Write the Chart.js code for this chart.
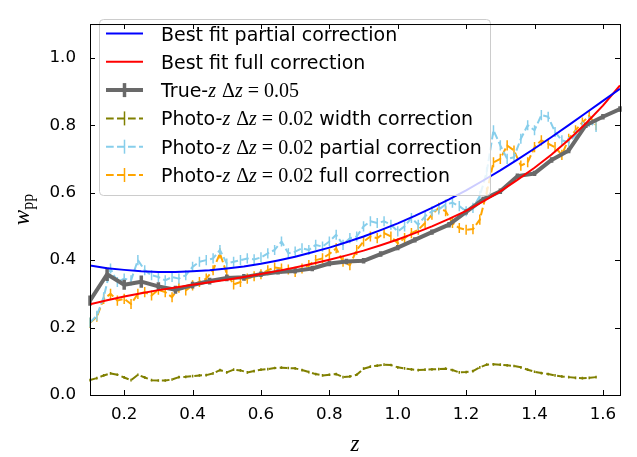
<!DOCTYPE html>
<html>
<head>
<meta charset="utf-8">
<script src="https://cdn.jsdelivr.net/npm/chart.js@4.4.0/dist/chart.umd.min.js"></script>
<style>
  body { margin: 0; background: #fff; }
  #wrap { width: 637px; height: 457px; }
</style>
</head>
<body>
<div id="wrap"><canvas id="wpp-chart" width="637" height="457"></canvas></div>
<script>
// best fit curves and true-z, dz = 0.05
const zFit = [0.10, 0.15, 0.20, 0.25, 0.30, 0.35, 0.40, 0.45, 0.50, 0.55,
  0.60, 0.65, 0.70, 0.75, 0.80, 0.85, 0.90, 0.95, 1.00, 1.05,
  1.10, 1.15, 1.20, 1.25, 1.30, 1.35, 1.40, 1.45, 1.50, 1.55,
  1.60, 1.65];
const fitPartial = [0.384, 0.376, 0.371, 0.367, 0.365, 0.365, 0.367, 0.370, 0.375, 0.381,
  0.389, 0.399, 0.410, 0.423, 0.437, 0.453, 0.470, 0.489, 0.509, 0.531,
  0.555, 0.580, 0.607, 0.636, 0.666, 0.698, 0.731, 0.765, 0.800, 0.836,
  0.872, 0.908];
const fitFull = [0.269, 0.281, 0.292, 0.302, 0.311, 0.319, 0.327, 0.334, 0.342, 0.350,
  0.359, 0.368, 0.378, 0.389, 0.401, 0.414, 0.428, 0.444, 0.461, 0.480,
  0.500, 0.522, 0.546, 0.574, 0.604, 0.638, 0.674, 0.713, 0.757, 0.805,
  0.858, 0.918];
const wTrue = [0.280, 0.358, 0.327, 0.336, 0.322, 0.312, 0.326, 0.338, 0.347, 0.349,
  0.358, 0.365, 0.368, 0.375, 0.390, 0.396, 0.398, 0.418, 0.437, 0.460,
  0.483, 0.505, 0.543, 0.580, 0.604, 0.649, 0.657, 0.697, 0.725, 0.800,
  0.825, 0.848];
const errTrue = [0.015, 0.020, 0.015, 0.018, 0.012, 0.012, 0.010, 0.010, 0.010, 0.010,
  0.008, 0.008, 0.008, 0.008, 0.008, 0.008, 0.008, 0.008, 0.008, 0.008,
  0.008, 0.008, 0.008, 0.008, 0.008, 0.008, 0.008, 0.008, 0.008, 0.008,
  0.008, 0.008];

// photo-z, dz = 0.02
const zPhoto = [0.10, 0.12, 0.14, 0.16, 0.18, 0.20, 0.22, 0.24, 0.26, 0.28,
  0.30, 0.32, 0.34, 0.36, 0.38, 0.40, 0.42, 0.44, 0.46, 0.48,
  0.50, 0.52, 0.54, 0.56, 0.58, 0.60, 0.62, 0.64, 0.66, 0.68,
  0.70, 0.72, 0.74, 0.76, 0.78, 0.80, 0.82, 0.84, 0.86, 0.88,
  0.90, 0.92, 0.94, 0.96, 0.98, 1.00, 1.02, 1.04, 1.06, 1.08,
  1.10, 1.12, 1.14, 1.16, 1.18, 1.20, 1.22, 1.24, 1.26, 1.28,
  1.30, 1.32, 1.34, 1.36, 1.38, 1.40, 1.42, 1.44, 1.46, 1.48,
  1.50, 1.52, 1.54, 1.56, 1.58];
const wWidth = [0.044, 0.050, 0.058, 0.064, 0.060, 0.052, 0.044, 0.060, 0.052, 0.044,
  0.043, 0.043, 0.046, 0.053, 0.054, 0.056, 0.058, 0.059, 0.064, 0.074,
  0.067, 0.075, 0.073, 0.067, 0.071, 0.075, 0.077, 0.080, 0.081, 0.080,
  0.079, 0.074, 0.068, 0.062, 0.058, 0.060, 0.062, 0.053, 0.055, 0.060,
  0.078, 0.084, 0.087, 0.090, 0.089, 0.082, 0.079, 0.076, 0.074, 0.075,
  0.076, 0.077, 0.078, 0.074, 0.067, 0.068, 0.071, 0.082, 0.090, 0.091,
  0.090, 0.088, 0.086, 0.082, 0.075, 0.069, 0.065, 0.062, 0.058, 0.055,
  0.053, 0.051, 0.050, 0.051, 0.053];
const wPartial = [0.215, 0.235, 0.290, 0.375, 0.335, 0.345, 0.340, 0.400, 0.370, 0.355,
  0.350, 0.340, 0.350, 0.345, 0.355, 0.380, 0.395, 0.400, 0.405, 0.430,
  0.390, 0.395, 0.400, 0.405, 0.402, 0.408, 0.420, 0.430, 0.455, 0.420,
  0.425, 0.435, 0.430, 0.445, 0.440, 0.455, 0.475, 0.445, 0.465, 0.470,
  0.500, 0.515, 0.510, 0.515, 0.505, 0.485, 0.500, 0.525, 0.505, 0.530,
  0.545, 0.550, 0.565, 0.570, 0.560, 0.545, 0.555, 0.590, 0.660, 0.785,
  0.740, 0.700, 0.705, 0.760, 0.800, 0.785, 0.830, 0.825, 0.780, 0.755,
  0.750, 0.770, 0.795, 0.810, 0.795];
const wFull = [0.214, 0.232, 0.285, 0.300, 0.280, 0.285, 0.270, 0.300, 0.305, 0.295,
  0.312, 0.305, 0.290, 0.318, 0.310, 0.325, 0.335, 0.345, 0.370, 0.420,
  0.360, 0.328, 0.335, 0.345, 0.352, 0.358, 0.370, 0.378, 0.375, 0.372,
  0.365, 0.375, 0.385, 0.400, 0.405, 0.418, 0.435, 0.395, 0.385, 0.430,
  0.455, 0.470, 0.465, 0.480, 0.470, 0.450, 0.465, 0.480, 0.490, 0.510,
  0.535, 0.555, 0.545, 0.510, 0.495, 0.490, 0.492, 0.520, 0.600, 0.690,
  0.700, 0.740, 0.725, 0.680, 0.690, 0.735, 0.755, 0.745, 0.735, 0.712,
  0.760, 0.785, 0.808, 0.828, 0.800];
const errWidth = 0.004;
const errPartial = 0.015;
const errFull = 0.015;

const xTicks = [0.2, 0.4, 0.6, 0.8, 1.0, 1.2, 1.4, 1.6];
const yTicks = [0.0, 0.2, 0.4, 0.6, 0.8, 1.0];

// legend text: [text, font]
const legendLabels = [
  [['Best fit partial correction', 'sans']],
  [['Best fit full correction', 'sans']],
  [['True-', 'sans'], ['z', 'it'], [' ', 'sans'], ['Δ', 'rm'], ['z', 'it'], [' = ', 'rm'], ['0.05', 'rm']],
  [['Photo-', 'sans'], ['z', 'it'], [' ', 'sans'], ['Δ', 'rm'], ['z', 'it'], [' = ', 'rm'], ['0.02', 'rm'], [' width correction', 'sans']],
  [['Photo-', 'sans'], ['z', 'it'], [' ', 'sans'], ['Δ', 'rm'], ['z', 'it'], [' = ', 'rm'], ['0.02', 'rm'], [' partial correction', 'sans']],
  [['Photo-', 'sans'], ['z', 'it'], [' ', 'sans'], ['Δ', 'rm'], ['z', 'it'], [' = ', 'rm'], ['0.02', 'rm'], [' full correction', 'sans']]
];
const fonts = {
  sans: '19px "DejaVu Sans"',
  it: 'italic 20px "Liberation Serif"',
  rm: '20px "Liberation Serif"'
};

const pts = (xs, ys) => xs.map((v, i) => ({ x: v, y: ys[i] }));
const dash = [7.7, 3.3];

// vertical error bars, drawn right after their own line
const errorBars = {
  id: 'errorBars',
  afterDatasetDraw(chart, args) {
    const ds = chart.data.datasets[args.index];
    if (ds.errors === undefined) return;
    const ctx = chart.ctx, x = chart.scales.x, y = chart.scales.y;
    ctx.save();
    ctx.strokeStyle = ds.borderColor;
    ctx.lineWidth = ds.errLine;
    ctx.setLineDash([]);
    ctx.beginPath();
    ds.data.forEach((p, i) => {
      const e = Array.isArray(ds.errors) ? ds.errors[i] : ds.errors;
      const px = x.getPixelForValue(p.x);
      ctx.moveTo(px, y.getPixelForValue(p.y - e));
      ctx.lineTo(px, y.getPixelForValue(p.y + e));
    });
    ctx.stroke();
    ctx.restore();
  }
};

function roundRect(ctx, x, y, w, h, r) {
  ctx.beginPath();
  ctx.moveTo(x + r, y);
  ctx.arcTo(x + w, y, x + w, y + h, r);
  ctx.arcTo(x + w, y + h, x, y + h, r);
  ctx.arcTo(x, y + h, x, y, r);
  ctx.arcTo(x, y, x + w, y, r);
  ctx.closePath();
}

// matplotlib style legend box in the upper left
const boxLegend = {
  id: 'boxLegend',
  afterDatasetsDraw(chart) {
    const ctx = chart.ctx;
    const left = 99.5, top = 19.5, rowH = 28.3, textX = 161;
    ctx.save();
    let maxW = 0;
    legendLabels.forEach(parts => {
      let w = 0;
      parts.forEach(([t, k]) => { ctx.font = fonts[k]; w += ctx.measureText(t).width; });
      maxW = Math.max(maxW, w);
    });
    const w = Math.round(textX + maxW + 9 - left), h = 176;
    roundRect(ctx, left, top, w, h, 4);
    ctx.fillStyle = 'rgba(255,255,255,0.8)';
    ctx.fill();
    ctx.strokeStyle = '#cccccc';
    ctx.lineWidth = 1;
    ctx.stroke();

    chart.data.datasets.forEach((ds, i) => {
      const cy = top + 14 + i * rowH;
      ctx.strokeStyle = ds.borderColor;
      ctx.lineWidth = ds.borderWidth;
      ctx.setLineDash(ds.borderDash || []);
      ctx.beginPath();
      ctx.moveTo(106, cy);
      ctx.lineTo(143, cy);
      ctx.stroke();
      if (ds.errors !== undefined) {
        ctx.setLineDash([]);
        ctx.lineWidth = ds.errLine;
        ctx.beginPath();
        ctx.moveTo(124.5, cy - 7);
        ctx.lineTo(124.5, cy + 7);
        ctx.stroke();
      }
      let tx = textX;
      ctx.fillStyle = '#000';
      ctx.textBaseline = 'alphabetic';
      ctx.textAlign = 'left';
      legendLabels[i].forEach(([t, k]) => {
        ctx.font = fonts[k];
        ctx.fillText(t, tx, cy + 7);
        tx += ctx.measureText(t).width;
      });
    });
    ctx.restore();
  }
};

// full box, inward ticks on all four sides, axis labels
const frame = {
  id: 'frame',
  afterDraw(chart) {
    const ctx = chart.ctx, a = chart.chartArea, x = chart.scales.x, y = chart.scales.y;
    ctx.save();
    ctx.strokeStyle = '#000';
    ctx.lineWidth = 1;
    ctx.setLineDash([]);
    ctx.strokeRect(a.left + 0.5, a.top + 0.5, a.right - a.left, a.bottom - a.top);
    ctx.beginPath();
    xTicks.forEach(v => {
      const px = Math.round(x.getPixelForValue(v)) + 0.5;
      ctx.moveTo(px, a.bottom); ctx.lineTo(px, a.bottom - 5);
      ctx.moveTo(px, a.top); ctx.lineTo(px, a.top + 5);
    });
    yTicks.forEach(v => {
      const py = Math.round(y.getPixelForValue(v)) + 0.5;
      ctx.moveTo(a.left, py); ctx.lineTo(a.left + 5, py);
      ctx.moveTo(a.right, py); ctx.lineTo(a.right - 5, py);
    });
    ctx.stroke();

    ctx.fillStyle = '#000';
    ctx.textBaseline = 'alphabetic';
    ctx.textAlign = 'center';
    ctx.font = 'italic 23px "Liberation Serif"';
    ctx.fillText('z', (a.left + a.right) / 2, 451);

    // y label w_pp, rotated
    ctx.translate(28.5, (a.top + a.bottom) / 2);
    ctx.rotate(-Math.PI / 2);
    ctx.textAlign = 'left';
    ctx.font = 'italic 23px "Liberation Serif"';
    const ww = ctx.measureText('w').width;
    ctx.font = '16px "Liberation Serif"';
    const pw = ctx.measureText('pp').width;
    const x0 = -(ww + pw) / 2;
    ctx.font = 'italic 23px "Liberation Serif"';
    ctx.fillText('w', x0, 0);
    ctx.font = '16px "Liberation Serif"';
    ctx.fillText('pp', x0 + ww, 4);
    ctx.restore();
  }
};

new Chart(document.getElementById('wpp-chart'), {
  type: 'line',
  data: {
    datasets: [
      {
        label: 'Best fit partial correction',
        data: pts(zFit, fitPartial),
        borderColor: '#0000ff',
        borderWidth: 2
      },
      {
        label: 'Best fit full correction',
        data: pts(zFit, fitFull),
        borderColor: '#ff0000',
        borderWidth: 2
      },
      {
        label: 'True-z dz=0.05',
        data: pts(zFit, wTrue),
        borderColor: '#696969',
        borderWidth: 4,
        errors: errTrue,
        errLine: 3.5
      },
      {
        label: 'Photo-z dz=0.02 width correction',
        data: pts(zPhoto, wWidth),
        borderColor: '#808000',
        borderWidth: 2,
        borderDash: dash,
        errors: errWidth,
        errLine: 1.5
      },
      {
        label: 'Photo-z dz=0.02 partial correction',
        data: pts(zPhoto, wPartial),
        borderColor: '#87ceeb',
        borderWidth: 2,
        borderDash: dash,
        errors: errPartial,
        errLine: 1.5
      },
      {
        label: 'Photo-z dz=0.02 full correction',
        data: pts(zPhoto, wFull),
        borderColor: '#ffa500',
        borderWidth: 2,
        borderDash: dash,
        errors: errFull,
        errLine: 1.5
      }
    ]
  },
  options: {
    responsive: false,
    animation: false,
    devicePixelRatio: 1,
    layout: { padding: { top: 7, right: 17, left: 0, bottom: 0 } },
    elements: {
      point: { radius: 0, hoverRadius: 0 },
      line: { borderJoinStyle: 'round', tension: 0, fill: false }
    },
    plugins: {
      legend: { display: false },
      tooltip: { enabled: false }
    },
    scales: {
      x: {
        type: 'linear',
        min: 0.1,
        max: 1.65,
        afterBuildTicks: s => { s.ticks = xTicks.map(v => ({ value: v })); },
        afterFit: s => { s.height = 62; },
        grid: { display: false, drawTicks: false },
        border: { display: false },
        ticks: {
          color: '#000',
          font: { family: 'DejaVu Sans', size: 16.7 },
          padding: 10,
          maxRotation: 0,
          autoSkip: false,
          callback: v => v.toFixed(1)
        }
      },
      y: {
        type: 'linear',
        min: 0,
        max: 1.1,
        afterBuildTicks: s => { s.ticks = yTicks.map(v => ({ value: v })); },
        afterFit: s => { s.width = 90; },
        grid: { display: false, drawTicks: false },
        border: { display: false },
        ticks: {
          color: '#000',
          font: { family: 'DejaVu Sans', size: 16.7 },
          padding: 14,
          autoSkip: false,
          callback: v => v.toFixed(1)
        }
      }
    }
  },
  plugins: [errorBars, boxLegend, frame]
});
</script>
</body>
</html>
